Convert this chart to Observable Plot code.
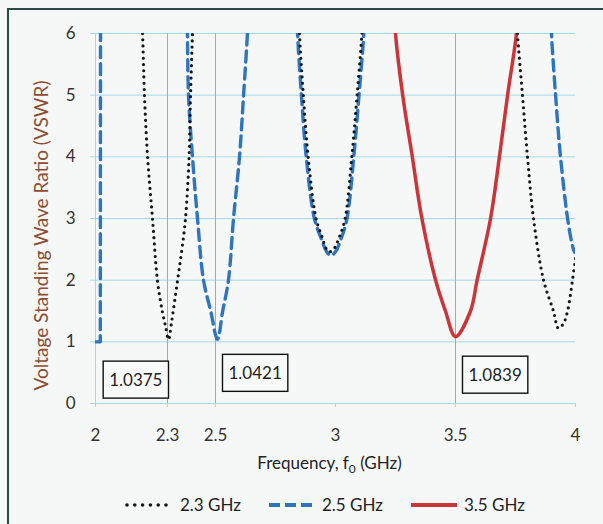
<!DOCTYPE html>
<html><head><meta charset="utf-8">
<script src="https://cdn.jsdelivr.net/npm/d3@7"></script>
<script src="https://cdn.jsdelivr.net/npm/@observablehq/plot@0.6"></script>
<style>
html,body{margin:0;padding:0;background:#f6f8f8;overflow:hidden;}
body{width:603px;height:524px;position:relative;font-family:Lato,"Open Sans",sans-serif;}
#frame{position:absolute;left:7px;top:8px;width:620px;height:540px;border-left:2px solid #2d4b45;border-top:2px solid #2d4b45;}
#chart{position:absolute;left:0;top:0;}
#legend{position:absolute;top:494px;left:125px;display:flex;align-items:center;font-size:17px;color:#222;white-space:nowrap;}
#legend .item{display:flex;align-items:center;margin-right:26px;}
#legend svg{margin-right:6px;}
</style>
</head><body>
<div id="frame"></div>
<div id="chart"></div>
<div id="legend"></div>
<script>
// ---- data ----
const seriesNames = ["2.3 GHz", "2.5 GHz", "3.5 GHz"];

const freq23 = [2.19, 2.196, 2.204, 2.217, 2.2375, 2.258, 2.278, 2.292, 2.304, 2.318, 2.342, 2.36, 2.375, 2.39, 2.396, 2.404, 2.407,
  null,
  2.848, 2.85, 2.866, 2.886, 2.919, 2.944, 2.96, 2.975, 2.992, 3.016, 3.04, 3.068, 3.09, 3.11, 3.114,
  null,
  3.752, 3.758, 3.779, 3.80, 3.825, 3.867, 3.908, 3.929, 3.95, 3.967, 3.9875, 4.0];
const vswr23 = [6.4, 6, 5, 4, 3, 2, 1.5, 1.25, 1.0375, 1.35, 2, 2.5, 3, 4, 5, 6, 6.4,
  null,
  6.4, 6, 5, 4, 3, 2.7, 2.52, 2.46, 2.5, 2.7, 3, 4, 5, 6, 6.4,
  null,
  6.4, 6, 5, 4, 3, 2, 1.5, 1.22, 1.3, 1.5, 2.0, 2.35];

const freq25 = [2.0, 2.02, 2.021,
  null,
  2.381, 2.383, 2.3875, 2.404, 2.425, 2.45, 2.48, 2.508, 2.53, 2.554, 2.575, 2.6, 2.617, 2.633, 2.637,
  null,
  2.84, 2.842, 2.858, 2.878, 2.912, 2.94, 2.962, 2.98, 3.0, 3.024, 3.048, 3.076, 3.098, 3.118, 3.122,
  null,
  3.898, 3.9, 3.917, 3.9375, 3.967, 3.985, 3.996, 4.0];
const vswr25 = [1.0, 1.0, 6.4,
  null,
  6.4, 6, 5, 4, 3, 2, 1.5, 1.0421, 1.5, 2, 3, 4, 5, 6, 6.4,
  null,
  6.4, 6, 5, 4, 3, 2.68, 2.47, 2.4, 2.46, 2.68, 3, 4, 5, 6, 6.4,
  null,
  6.4, 6, 5, 4, 3, 2.6, 2.45, 2.5];

const freq35 = [3.246, 3.25, 3.28, 3.32, 3.36, 3.417, 3.458, 3.5, 3.5625, 3.59, 3.646, 3.683, 3.717, 3.754, 3.76];
const vswr35 = [6.4, 6, 5, 4, 3, 2, 1.5, 1.0839, 1.5, 2, 3, 4, 5, 6, 6.4];

const xTicks = [2, 2.3, 2.5, 3, 3.5, 4];
const yTicks = [0, 1, 2, 3, 4, 5, 6];
const markerFreqs = [2.3, 2.5, 3.5];
const annoText = ["1.0375", "1.0421", "1.0839"];
const annoFreq = [2.3, 2.5, 3.5];
const annoVswr = [0.37, 0.48, 0.45];
const annoSide = ["end", "start", "start"];
const xTitle = "Frequency, f0 (GHz)";
const yTitle = "Voltage Standing Wave Ratio (VSWR)";

// ---- build ----
const toRows = (fs, vs) => fs.map((f, i) => ({f, v: vs[i]}));
const s23 = toRows(freq23, vswr23), s25 = toRows(freq25, vswr25), s35 = toRows(freq35, vswr35);
// first blue piece (edge of the band) drawn with straight segments, the rest smoothed
const firstBreak = s25.findIndex(d => d.f == null);
const s25a = s25.slice(0, firstBreak), s25b = s25.slice(firstBreak + 1);
const annos = annoText.map((t, i) => ({t, f: annoFreq[i], v: annoVswr[i], side: annoSide[i]}));

const gridColor = "#a6d8e6";
const cBlack = "#161616", cBlue = "#2f74bf", cRed = "#cc3438";
const blueStyle = {x: "f", y: "v", stroke: cBlue, strokeWidth: 3.4, strokeDasharray: "11 6", clip: true};

const plot = Plot.plot({
  width: 603, height: 480,
  marginTop: 33, marginBottom: 77, marginLeft: 95, marginRight: 28,
  style: {background: "transparent", fontFamily: "Lato, 'Open Sans', sans-serif", fontSize: "17px", color: "#333"},
  x: {domain: [2, 4], label: null},
  y: {domain: [0, 6], label: null},
  marks: [
    Plot.ruleY(yTicks, {stroke: gridColor, strokeWidth: 1}),
    Plot.ruleX([2], {stroke: gridColor, strokeWidth: 1}),
    Plot.ruleX(markerFreqs, {y1: 0, y2: 6, stroke: "#f08a8a", strokeWidth: 1}),
    Plot.axisX({ticks: xTicks, tickFormat: d => String(d), tickSize: 4, tickPadding: 21, stroke: gridColor, fill: "#333", label: null}),
    Plot.axisY({ticks: yTicks, tickFormat: d => String(d), tickSize: 5, tickPadding: 15, stroke: gridColor, fill: "#333", label: null}),
    Plot.line(s35, {x: "f", y: "v", stroke: cRed, strokeWidth: 3.5, clip: true, curve: "catmull-rom"}),
    Plot.line(s25a, {...blueStyle, curve: "linear"}),
    Plot.line(s25b, {...blueStyle, curve: "catmull-rom"}),
    Plot.line(s23, {x: "f", y: "v", stroke: cBlack, strokeWidth: 3.2, strokeDasharray: "0 6.2", strokeLinecap: "round", clip: true, curve: "catmull-rom"}),
    Plot.text(annos.filter(d => d.side === "end"), {x: "f", y: "v", text: "t", textAnchor: "end", dx: -5, fill: "#222", fontSize: 17}),
    Plot.text(annos.filter(d => d.side === "start"), {x: "f", y: "v", text: "t", textAnchor: "start", dx: 13, fill: "#222", fontSize: 17}),
    Plot.text([xTitle], {frameAnchor: "bottom", dy: 65, dx: -6, fill: "#222", fontSize: 17}),
    Plot.text([yTitle], {frameAnchor: "left", textAnchor: "middle", rotate: -90, dx: -54, dy: 17, fill: "#8f4c30", fontSize: 19})
  ]
});
document.getElementById("chart").appendChild(plot);

// boxes around annotation values
const svgNS = "http://www.w3.org/2000/svg";
plot.querySelectorAll("text").forEach(t => {
  if (annoText.includes(t.textContent)) {
    const b = t.getBBox();
    const padY = Math.max(8, (35 - b.height) / 2);
    const r = document.createElementNS(svgNS, "rect");
    r.setAttribute("x", b.x - 6); r.setAttribute("y", b.y - padY);
    r.setAttribute("width", b.width + 12); r.setAttribute("height", b.height + 2 * padY);
    r.setAttribute("fill", "#f8fafa"); r.setAttribute("stroke", "#111"); r.setAttribute("stroke-width", 1.4);
    if (t.getAttribute("transform")) r.setAttribute("transform", t.getAttribute("transform"));
    t.parentNode.insertBefore(r, t);
  }
  if (t.textContent === xTitle) {
    const sel = d3.select(t);
    sel.text(null);
    sel.append("tspan").text("Frequency, f");
    sel.append("tspan").attr("font-size", 12).attr("dy", 4).text("0");
    sel.append("tspan").attr("dy", -4).text(" (GHz)");
  }
});

// legend
const legendStyles = [
  {stroke: cBlack, dash: "0 7.8", cap: "round", w: 3.6},
  {stroke: cBlue, dash: "11 5", cap: "butt", w: 4},
  {stroke: cRed, dash: null, cap: "butt", w: 4}
];
const leg = d3.select("#legend");
seriesNames.forEach((name, i) => {
  const it = leg.append("div").attr("class", "item");
  const s = it.append("svg").attr("width", 49).attr("height", 10);
  const st = legendStyles[i];
  s.append("line").attr("x1", 2).attr("x2", 48).attr("y1", 5).attr("y2", 5)
    .attr("stroke", st.stroke).attr("stroke-width", st.w)
    .attr("stroke-linecap", st.cap).attr("stroke-dasharray", st.dash);
  it.append("span").text(name);
});
</script>
</body></html>
